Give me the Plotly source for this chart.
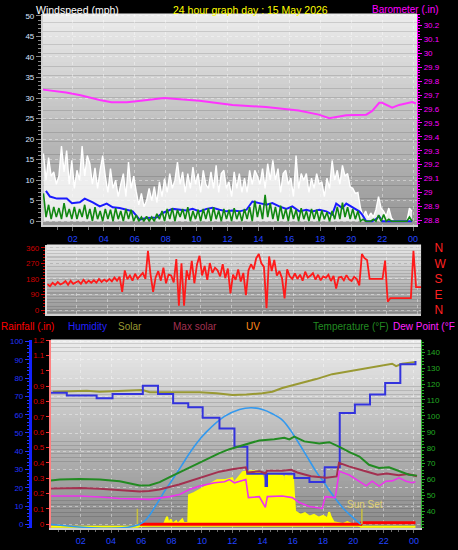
import plotly.graph_objects as go

W, H = 458, 550

# ---------------- DATA ----------------
title_text = "24 hour graph day : 15 May 2026"
hour_ticks = [2, 4, 6, 8, 10, 12, 14, 16, 18, 20, 22, 24]
hour_labels = ["02", "04", "06", "08", "10", "12", "14", "16", "18", "20", "22", "00"]

# wind samples every 10 minutes starting 00:06
wind_start = 0.1
wind_step = 1 / 6
gust = [16.5, 10, 15.5, 11, 12, 9,
        11, 18.3, 12, 17.2, 9, 14.8,
        8, 12.4, 10, 18.3, 11, 16,
        14, 9, 13, 8, 12.5, 16,
        11, 7, 12.8, 8, 10, 6,
        9, 11.6, 6, 14.4, 8, 11,
        7.2, 4, 6.8, 3.5, 5, 8,
        5, 8.4, 4.5, 9.6, 6, 10.4,
        7, 11.6, 8, 10, 14.4, 9,
        12, 7, 11.6, 8, 13.2, 9,
        11.6, 7, 12.4, 9, 8, 12,
        8, 13.6, 7, 11.6, 12.4, 8,
        9.6, 6, 12, 8, 11.6, 7,
        10.5, 7, 12.4, 9, 12.4, 11,
        9, 12.8, 8, 14, 10, 14.8,
        10, 12.8, 7, 11.6, 12.4, 9,
        10.5, 6, 16, 8, 11.6, 10,
        11.6, 7, 10.5, 8, 11.6, 9,
        9.6, 6, 10.5, 8, 14.8, 10,
        12.4, 9, 13.6, 11, 11.6, 8.4,
        8, 6.8, 7, 3.2, 1.2, 2.5,
        0.8, 2, 1, 2.8, 6, 3.2,
        2.4, 1.2, 3.2, 0.8, 0, 0,
        0, 0, 0, 0, 3.2, 2.4]
wind_speed = [6.8, 1, 4, 0.5, 3.5, 1,
              3.2, 0.5, 4.4, 1, 3, 0.5,
              3.5, 0.5, 3, 1, 4, 0.5,
              3, 0, 3.4, 0.5, 2.5, 0,
              3, 0.5, 2.8, 0, 3.2, 0.5,
              2.5, 0, 3, 0.5, 2.8, 0,
              1.5, 0, 1, 0, 1.2, 0,
              1, 0, 1.8, 0.5, 2.5, 0,
              3, 0.5, 3.2, 0, 2.8, 1,
              3, 0.5, 3.4, 0, 2.5, 0.5,
              2.8, 0, 3, 0.5, 3.2, 0,
              3.4, 0.5, 2.6, 0, 3, 0.5,
              2.8, 0, 3.2, 0.5, 2.5, 0,
              3, 0.5, 3.4, 0, 5, 1,
              4, 0.5, 6.4, 1, 4.4, 0.5,
              3.5, 0, 3.8, 0.5, 3, 0,
              3.4, 0.5, 2.8, 0, 3.2, 0.5,
              2.5, 0, 3, 0.5, 2.8, 0,
              2.6, 0.5, 2.2, 0, 2.5, 0.5,
              3.5, 0.5, 4.5, 1, 3.4, 0.5,
              3, 0.5, 2.5, 0, 0.5, 0,
              0, 0, 0.5, 0, 1.5, 0,
              1.6, 0, 0.5, 0, 0, 0,
              0, 0, 0, 0, 1, 0]
avg_hours = [0.26, 0.52, 0.97, 1.61, 1.94, 2.45, 2.77, 3.29, 3.74, 4.19, 4.58, 5.03,
             5.48, 5.87, 6.32, 6.77, 7.42, 7.81, 8.45, 8.9, 9.35, 9.74, 10.19, 10.65,
             11.03, 11.48, 11.94, 12.32, 12.77, 13.23, 13.61, 14.06, 14.52, 14.9, 15.35,
             15.81, 16.19, 16.65, 17.1, 17.48, 17.94, 18.39, 18.77, 19.03, 19.42, 19.68,
             20.06, 20.52, 20.71, 20.97, 21.35, 21.6, 21.81, 22.0, 22.65, 23.94]
wind_avg = [7.4, 6.0, 5.5, 5.5, 4.4, 4.6, 5.5, 4.6, 3.6, 4.3, 3.4, 3.2,
            2.8, 2.4, 0.4, 0.8, 0.9, 2.0, 3.0, 2.8, 2.6, 3.0, 2.4, 3.0,
            3.3, 2.8, 2.4, 2.6, 2.4, 2.8, 4.8, 4.4, 4.0, 4.4, 3.6,
            3.0, 3.6, 2.4, 2.8, 2.4, 2.8, 2.4, 1.6, 4.3, 3.2, 4.3,
            3.4, 2.4, 1.6, 0.0, 0.0, 0.5, 1.2, 0.0, 0.0, 0.0]
baro_hours = [0.07, 1.56, 2.5, 3.74, 4.5, 5.5, 6.4, 7.9, 8.5, 10.19, 12.33, 14.49,
              16.6, 17.9, 18.58, 19.68, 20.97, 21.36, 21.81, 22.0, 22.65, 23.1, 23.94, 24.19]
baro = [29.74, 29.72, 29.70, 29.665, 29.65, 29.65, 29.66, 29.68, 29.675, 29.66, 29.63, 29.615,
        29.59, 29.56, 29.535, 29.555, 29.56, 29.587, 29.645, 29.645, 29.61, 29.63, 29.65, 29.64]

wind_dir = [150, 138, 158, 145, 162, 148,
            155, 168, 146, 170, 152, 162,
            168, 152, 175, 156, 170, 158,
            172, 158, 180, 162, 176, 165,
            180, 166, 188, 170, 192, 105,
            229, 178, 200, 170, 210, 182,
            198, 215, 180, 343, 205, 105,
            190, 225, 170, 245, 155, 205,
            200, 160, 295, 25, 270, 25,
            230, 175, 285, 155, 262, 314,
            200, 255, 175, 272, 215, 245,
            230, 195, 265, 185, 240, 97,
            205, 175, 235, 165, 215, 86,
            230, 265, 235, 300, 324, 270,
            250, 10, 310, 225, 290, 200,
            225, 185, 67, 235, 195, 180,
            212, 180, 205, 170, 222, 188,
            198, 214, 176, 204, 172, 194,
            186, 204, 168, 198, 124, 188,
            192, 172, 202, 178, 168, 192,
            180, 143, 324, 300, 290, 180,
            180, 180, 180, 180, 180, 286,
            48, 69, 69, 69, 69, 69,
            69, 69, 69, 69, 343, 133,
            133, 133]
dir_ticks = [0, 90, 180, 270, 360]
compass_labels = ["N", "E", "S", "W", "N"]

temp_hours = [0.03, 0.62, 1.94, 3.25, 4.57, 5.89, 6.55, 7.21, 7.87, 8.52, 9.18, 9.84, 10.5,
              11.16, 11.82, 12.48, 13.13, 13.79, 14.78, 15.44, 15.77, 16.1, 16.76, 17.75,
              18.41, 19.08, 19.74, 20.4, 21.03, 21.69, 22.35, 23.0, 23.67, 24.2]
temperature = [59.4, 60.0, 60.4, 60.0, 59.0, 56.3, 56.5, 58.4, 61.5, 64.5, 67.2, 70.6, 73.5,
               76.6, 79.1, 80.9, 83.0, 84.6, 85.3, 86.3, 85.2, 87.0, 84.0, 82.6,
               83.5, 80.6, 77.2, 74.5, 69.3, 67.3, 67.7, 65.2, 63.1, 62.5]
feels_hours = [0.03, 1.0, 2.0, 3.25, 4.5, 5.9, 6.5, 7.2, 8.5, 9.84, 11.16, 12.0, 12.9, 13.0,
               13.8, 14.2, 14.3, 15.3, 15.9, 16.3, 17.2, 18.2, 18.9, 19.05, 19.7, 20.8,
               21.6, 22.2, 23.0, 23.6, 24.2]
feels_like = [54.4, 54.6, 54.8, 54.2, 53.4, 52.6, 52.8, 53.8, 56.9, 61.1, 65.0, 66.5, 67.7, 64.5,
              65.2, 64.0, 65.5, 65.6, 66.2, 64.5, 62.1, 61.1, 62.0, 70.5, 68.3, 65.2,
              63.1, 63.8, 62.8, 63.5, 62.1]
dew_hours = [0.03, 1.94, 3.25, 4.57, 6.55, 7.87, 8.52, 9.18, 9.84, 10.83, 11.49, 11.82, 12.15,
             12.9, 13.07, 13.79, 14.19, 14.32, 15.3, 15.97, 16.43, 17.09, 17.94, 18.15, 18.8,
             19.07, 19.73, 20.39, 20.85, 21.24, 21.7, 22.16, 22.56, 23.02, 23.48, 23.87, 24.1]
dew_point = [49.7, 49.7, 49.1, 48.1, 47.6, 49.3, 50.7, 53.8, 55.9, 58.0, 58.6, 60.0, 58.0,
             60.0, 48.7, 49.3, 42.5, 49.3, 49.7, 48.7, 45.6, 43.1, 41.9, 49.3, 48.7,
             65.2, 62.9, 59.2, 56.1, 59.0, 55.9, 59.0, 59.2, 61.1, 59.0, 58.0, 58.6]
hum_hours = [0.0, 1.08, 3.05, 4.1, 6.1, 7.1, 8.1, 9.1, 10.05, 11.16, 12.15, 13.0, 14.2, 14.3,
             16.1, 17.1, 18.1, 19.1, 20.1, 21.1, 22.1, 23.1, 24.1]
humidity = [72, 70.5, 69, 71.4, 75.8, 71.4, 66.3, 64.1, 58.4, 52.4, 42.5, 27.7, 21, 27.7,
            25.4, 23.2, 31.2, 60.9, 65.6, 71, 77.3, 87.6, 89.4]
hum2_hours = [0.16, 1.08, 2.4, 3.25, 4.37, 6.09, 6.55, 7.67, 9.84, 10.96, 12.02, 12.94, 14.0,
              14.65, 15.31, 16.43, 17.55, 18.6, 19.72, 20.84, 21.9, 22.56, 22.82, 23.21, 24.13]
humidity2 = [72.6, 72.8, 73.1, 72.6, 73.1, 73.5, 72.3, 72.3, 72.3, 71.7, 70.8, 71.0, 71.7,
             72.6, 74.6, 77.1, 79.5, 82.2, 83.9, 85.4, 87.2, 87.9, 86.6, 87.9, 88.8]
solar_hours = [0.0, 5.75, 6.0, 6.5, 7.0, 7.5, 7.7, 7.8, 7.95, 8.05, 8.3, 8.4, 8.7, 8.8, 9.1,
               9.15, 9.5, 9.8, 10.1, 10.4, 10.7, 11.0, 11.5, 12.0, 12.1, 12.4, 12.7, 13.0,
               13.5, 13.9, 14.2, 14.3, 14.6, 15.0, 15.3, 15.35, 15.4, 15.5, 15.55, 15.7, 16.0,
               16.15, 16.5, 16.8, 17.1, 17.4, 17.7, 18.0, 18.3, 18.4, 18.5, 18.7, 19.0, 19.3,
               19.6, 19.9, 20.2, 20.5, 24.1]
solar = [0, 0, 9, 12, 18, 22, 82, 22, 60, 22, 45, 22, 60, 30, 30,
         260, 278, 300, 315, 338, 360, 381, 383, 398, 357, 405, 449, 453,
         456, 447, 345, 435, 428, 420, 417, 45, 417, 60, 417, 413, 413,
         127, 98, 112, 83, 98, 75, 90, 68, 120, 82, 38, 30, 22,
         38, 22, 22, 0, 0]
max_solar_hours = [0.0, 5.89, 7.01, 7.54, 8.06, 8.63, 9.18, 9.73, 10.3, 11.49, 12.48, 13.25,
                   14.0, 14.65, 15.33, 15.97, 16.87, 17.53, 18.08, 18.6, 19.28, 19.72, 20.49]
max_solar = [0, 0, 165, 273, 368, 476, 584, 678, 759, 886, 943, 957,
             943, 908, 854, 750, 570, 435, 341, 246, 138, 84, 0]
rain_hours = [5.89, 20.5, 20.55, 24.1]
rainfall = [0, 0, 0.01, 0.01]
sunrise_hour = 5.74
sunset_hour = 20.56

# ---------------- LAYOUT HELPERS ----------------
def px_x(p):
    return p / W


def px_y(p):
    return 1 - p / H


FONT = "Liberation Sans"
P1 = dict(x=[px_x(43), px_x(418)], y=[px_y(224), px_y(10)])
P2 = dict(x=[px_x(47), px_x(422)], y=[px_y(314), px_y(244)])
P3 = dict(x=[px_x(51), px_x(422)], y=[px_y(531), px_y(340)])

shapes = []


def gradient(dom, top, bot, n=48):
    x0, x1 = dom["x"]
    y0, y1 = dom["y"]
    for i in range(n):
        f = (i + 0.5) / n
        c = [int(round(top[k] + (bot[k] - top[k]) * f)) for k in range(3)]
        ya = y1 - (y1 - y0) * i / n
        yb = y1 - (y1 - y0) * (i + 1) / n
        shapes.append(dict(type="rect", xref="paper", yref="paper", x0=x0, x1=x1,
                           y0=yb, y1=ya + 0.0005, layer="below", line=dict(width=0),
                           fillcolor=f"rgb({c[0]},{c[1]},{c[2]})"))


gradient(P1, (236, 236, 236), (150, 150, 150))
gradient(P2, (232, 232, 232), (150, 150, 150))
gradient(P3, (236, 236, 236), (138, 138, 138))

fig = go.Figure()
wind_hours = [wind_start + i * wind_step for i in range(len(gust))]
dir_hours = [wind_start + i * wind_step for i in range(len(wind_dir))]

# panel 1
fig.add_trace(go.Scatter(x=wind_hours, y=gust, mode="lines", line=dict(color="#ffffff", width=1.4),
                         fill="tozeroy", fillcolor="rgba(250,250,250,0.85)",
                         xaxis="x", yaxis="y"))
fig.add_trace(go.Scatter(x=avg_hours, y=wind_avg, mode="lines", line=dict(color="#1a1aff", width=2),
                         xaxis="x", yaxis="y"))
fig.add_trace(go.Scatter(x=wind_hours, y=wind_speed, mode="lines", line=dict(color="#118811", width=1.6),
                         xaxis="x", yaxis="y"))
fig.add_trace(go.Scatter(x=baro_hours, y=baro, mode="lines", line=dict(color="#ff33ff", width=2),
                         xaxis="x", yaxis="y2"))
# panel 2
fig.add_trace(go.Scatter(x=dir_hours, y=wind_dir, mode="lines", line=dict(color="#ff1a1a", width=1.8),
                         xaxis="x2", yaxis="y3"))
fig.add_trace(go.Scatter(x=[dir_hours[0]], y=[wind_dir[0]], mode="markers", marker=dict(opacity=0),
                         xaxis="x2", yaxis="y4"))
# panel 3
fig.add_trace(go.Scatter(x=solar_hours, y=solar, mode="lines", fill="tozeroy", fillcolor="#ffff00",
                         line=dict(color="#ffff00", width=2), xaxis="x3", yaxis="y5"))
fig.add_trace(go.Scatter(x=rain_hours, y=rainfall, mode="lines", line=dict(color="#ff0000", width=3),
                         xaxis="x3", yaxis="y6"))
fig.add_trace(go.Scatter(x=max_solar_hours, y=max_solar, mode="lines", line=dict(color="#3399ee", width=1.6, shape="spline"),
                         xaxis="x3", yaxis="y7"))
for hr in (sunrise_hour, sunset_hour):
    fig.add_trace(go.Scatter(x=[hr, hr], y=[0, 8.5], mode="lines", line=dict(color="#c8c040", width=1.5),
                             xaxis="x3", yaxis="y8"))
fig.add_trace(go.Scatter(x=hum2_hours, y=humidity2, mode="lines", line=dict(color="#999933", width=2),
                         xaxis="x3", yaxis="y8"))
fig.add_trace(go.Scatter(x=hum_hours, y=humidity, mode="lines", line=dict(color="#3333dd", width=2, shape="hv"),
                         xaxis="x3", yaxis="y8"))
fig.add_trace(go.Scatter(x=feels_hours, y=feels_like, mode="lines", line=dict(color="#a33050", width=2),
                         xaxis="x3", yaxis="y9"))
fig.add_trace(go.Scatter(x=temp_hours, y=temperature, mode="lines", line=dict(color="#228b22", width=2),
                         xaxis="x3", yaxis="y9"))
fig.add_trace(go.Scatter(x=dew_hours, y=dew_point, mode="lines", line=dict(color="#ee33ee", width=1.6),
                         xaxis="x3", yaxis="y9"))

yfont = dict(family=FONT, size=8)
xfont = dict(family=FONT, size=9)
grid = dict(showgrid=True, gridcolor="rgba(255,255,255,0.4)", griddash="dot", gridwidth=1)

layout = dict(
    width=W, height=H, autosize=False, showlegend=False, hovermode=False,
    paper_bgcolor="#000000", plot_bgcolor="rgba(0,0,0,0)",
    margin=dict(l=0, r=0, t=0, b=0),
    shapes=shapes,
    xaxis=dict(domain=P1["x"], anchor="y", range=[0.065, 24.26], tickvals=hour_ticks, ticktext=hour_labels,
               tickfont=dict(xfont, color="#2244ff"), ticks="outside", ticklen=4, tickcolor="#707070",
               showline=True, linecolor="#d0d0d0", linewidth=2, zeroline=False,
               minor=dict(dtick=1, ticks="outside", ticklen=3, tickcolor="#707070"), **grid),
    yaxis=dict(domain=P1["y"], anchor="x", range=[-0.96, 50.5], tickvals=list(range(0, 51, 5)),
               tickfont=dict(yfont, color="#d8e4ff"), ticks="outside", ticklen=5, tickcolor="#888888",
               showline=True, linecolor="#d0d0d0", linewidth=2, zeroline=False,
               minor=dict(dtick=1, ticks="outside", ticklen=3, tickcolor="#888888"), **grid),
    yaxis2=dict(overlaying="y", anchor="x", side="right", range=[28.765, 30.285],
                tickvals=[round(28.8 + 0.1 * i, 1) for i in range(15)],
                ticktext=[f"{28.8 + 0.1 * i:g}" if abs(28.8 + 0.1 * i - 29) > 0.01 else "29" for i in range(15)],
                tickfont=dict(yfont, color="#ff00ff"), ticks="outside", ticklen=4, tickcolor="#ff00ff",
                showline=True, linecolor="#ff00ff", linewidth=1, showgrid=False, zeroline=False,
                minor=dict(dtick=0.02, ticks="outside", ticklen=2, tickcolor="#ff00ff")),
    xaxis2=dict(domain=P2["x"], anchor="y3", range=[0.065, 24.26], showticklabels=False, ticks="",
                showline=True, linecolor="#d0d0d0", linewidth=2, zeroline=False, dtick=2, **grid),
    yaxis3=dict(domain=P2["y"], anchor="x2", range=[-22.9, 377], tickvals=dir_ticks,
                tickfont=dict(yfont, color="#cc0000"), ticks="outside", ticklen=4, tickcolor="#cc0000",
                showline=True, linecolor="#d8d8d8", linewidth=2, zeroline=False,
                minor=dict(dtick=18, ticks="outside", ticklen=2, tickcolor="#cc0000"), **grid),
    yaxis4=dict(overlaying="y3", anchor="x2", side="right", range=[-22.9, 377], tickvals=dir_ticks,
                ticktext=compass_labels, tickfont=dict(family=FONT, size=12, color="#ff2020"),
                ticks="outside", ticklen=10, tickcolor="rgba(0,0,0,0)", showgrid=False, zeroline=False),
    xaxis3=dict(domain=P3["x"], anchor="y5", range=[0.03, 24.47], tickvals=hour_ticks, ticktext=hour_labels,
                tickfont=dict(xfont, color="#2244ff"), ticks="outside", ticklen=3, tickcolor="#707070",
                showline=True, linecolor="#d0d0d0", linewidth=2, zeroline=False,
                minor=dict(dtick=0.5, ticks="outside", ticklen=2, tickcolor="#707070"), **grid),
    yaxis5=dict(domain=P3["y"], anchor="x3", range=[-12.2, 1536.5],
                tickvals=[20 + 150 * k for k in range(11)], showticklabels=False, ticks="",
                zeroline=False, **grid),
    yaxis6=dict(overlaying="y5", anchor="x3", side="left", range=[-0.0257, 1.2026],
                tickvals=[round(0.1 * i, 1) for i in range(13)],
                ticktext=["0", "0.1", "0.2", "0.3", "0.4", "0.5", "0.6", "0.7", "0.8", "0.9", "1", "1.1", "1.2"],
                tickfont=dict(yfont, color="#dd0000"), ticks="outside", ticklen=3, tickcolor="#ff3030",
                showline=True, linecolor="#ff8080", linewidth=2, showgrid=False, zeroline=False),
    yaxis7=dict(overlaying="y5", anchor="x3", range=[-32.4, 1516.2], visible=False),
    yaxis8=dict(overlaying="y5", anchor="free", position=px_x(30), side="left", range=[-2.16, 101.08],
                tickvals=list(range(0, 101, 10)), tickfont=dict(yfont, color="#2233ff"),
                ticks="outside", ticklen=4, tickcolor="#2233ff", showline=True, linecolor="#1122ff",
                linewidth=3, showgrid=False, zeroline=False,
                minor=dict(dtick=2, ticks="outside", ticklen=2, tickcolor="#2233ff")),
    yaxis9=dict(overlaying="y5", anchor="x3", side="right", range=[29.46, 147.87],
                tickvals=list(range(40, 141, 10)), tickfont=dict(yfont, color="#22aa22"),
                ticks="outside", ticklen=3, tickcolor="#22aa22", showline=True, linecolor="#33aa33",
                linewidth=1, showgrid=False, zeroline=False,
                minor=dict(dtick=2, ticks="outside", ticklen=2, tickcolor="#22aa22")),
)
fig.update_layout(**layout)

texts = [
    ("Windspeed (mph)", 35, 6, "#ffffff", 10.5),
    (title_text, 172, 6, "#ffff00", 10.5),
    ("Barometer (.in)", 372, 6, "#ff00ff", 10),
    ("Rainfall (.in)", 0, 327, "#ff0000", 10),
    ("Humidity", 67, 327, "#2222ff", 10),
    ("Solar", 117, 327, "#999933", 10),
    ("Max solar", 172, 327, "#a33050", 10),
    ("UV", 246, 327, "#ff8c1a", 10),
    ("Temperature (°F)", 313, 327, "#228b22", 10),
    ("Dew Point (°F", 393, 327, "#ff22ff", 10),
    ("Sun Set", 347, 507, "#e0d070", 10),
]
for t, x, y, c, s in texts:
    fig.add_annotation(text=t, x=px_x(x), y=px_y(y), xref="paper", yref="paper", xanchor="left",
                       yanchor="middle", showarrow=False, borderpad=0,
                       font=dict(family=FONT, size=s, color=c))

fig.write_html("out.html", config={"displayModeBar": False, "staticPlot": True},
               post_script="document.body.style.margin='0px';document.body.style.overflow='hidden';")
